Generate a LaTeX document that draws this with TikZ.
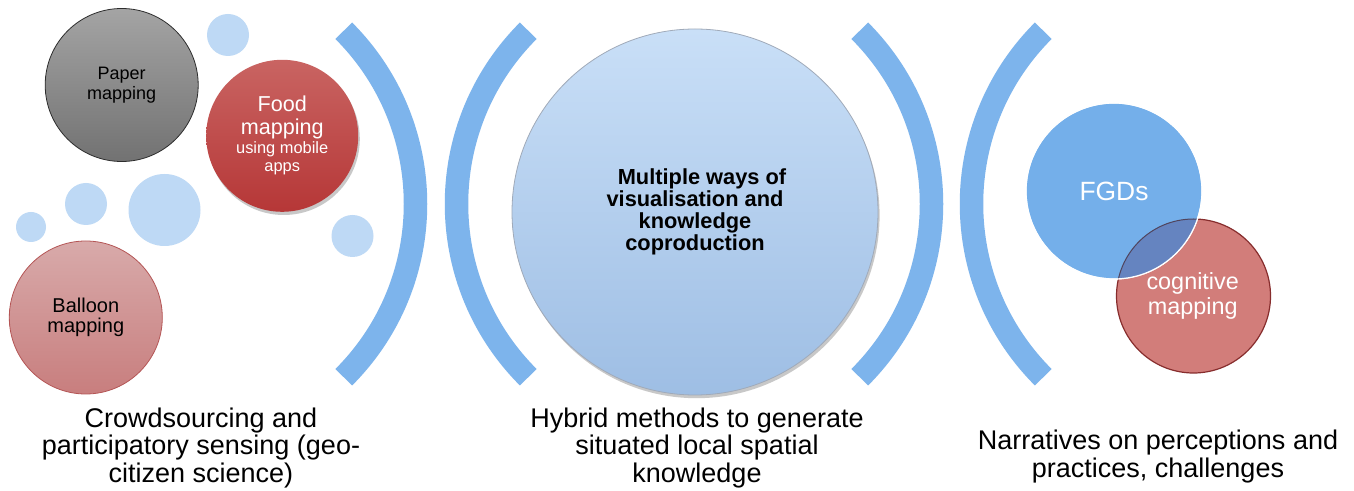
\documentclass[tikz,border=0pt]{standalone}
\usepackage{fontspec}
\setmainfont{Liberation Sans}
\usetikzlibrary{shadows}

\definecolor{bracketblue}{RGB}{125,180,236}
\definecolor{dotblue}{RGB}{190,217,245}
\definecolor{papertop}{RGB}{164,164,164}
\definecolor{paperbot}{RGB}{114,114,114}
\definecolor{paperedge}{RGB}{45,45,45}
\definecolor{foodtop}{RGB}{201,100,98}
\definecolor{foodbot}{RGB}{182,55,55}
\definecolor{balloontop}{RGB}{216,170,170}
\definecolor{balloonbot}{RGB}{200,126,126}
\definecolor{balloonedge}{RGB}{180,85,85}
\definecolor{midtop}{RGB}{201,223,247}
\definecolor{midbot}{RGB}{158,190,228}
\definecolor{midedge}{RGB}{160,170,185}
\definecolor{fgdblue}{RGB}{116,175,234}
\definecolor{cogred}{RGB}{210,125,122}
\definecolor{cogedge}{RGB}{135,45,45}
\definecolor{overlap}{RGB}{101,132,192}

\begin{document}
\begin{tikzpicture}[
    x=0.5pt, y=-0.5pt,
    bubble/.style={circle, inner sep=0pt, align=center},
    dot/.style={circle, fill=dotblue, inner sep=0pt},
    bracket/.style={draw=bracketblue, line width=11.75pt},
    caption/.style={align=center, inner sep=0pt, font=\fontsize{13.5}{13.75}\selectfont},
    softshadow/.style={drop shadow={shadow xshift=0.8pt, shadow yshift=-1.6pt, opacity=0.3, fill=black!70}}
]
    % page
    \fill[white] (0,0) rectangle (1354,491);
    \useasboundingbox (0,0) rectangle (1354,491);

    % small bubbles
    \node[dot, minimum size=21pt] (d1) at (228,35) {};
    \node[dot, minimum size=21pt] (d2) at (86,204) {};
    \node[dot, minimum size=15pt] (d3) at (31,227) {};
    \node[dot, minimum size=36pt] (d4) at (164.5,210) {};
    \node[dot, minimum size=21pt] (d5) at (352.5,236) {};

    % crowdsourcing bubbles
    \node[bubble, minimum size=76.5pt, draw=paperedge, top color=papertop, bottom color=paperbot,
          font=\fontsize{9}{10}\selectfont] (paper) at (121.7,85) {Paper\\mapping};
    \node[bubble, minimum size=76pt, top color=foodtop, bottom color=foodbot, softshadow,
          text=white, font=\fontsize{10.8}{11.5}\selectfont] (food) at (282.2,135.8)
          {Food\\mapping\\[-2pt]\fontsize{8.2}{9}\selectfont using mobile\\[-2.5pt]\fontsize{8.2}{9}\selectfont apps};
    \node[bubble, minimum size=76.5pt, draw=balloonedge, top color=balloontop, bottom color=balloonbot,
          font=\fontsize{10}{10}\selectfont] (balloon) at (85.8,317.5) {Balloon\\mapping};

    % brackets
    \coordinate (b1) at (170.5,204);
    \coordinate (b2) at (701.5,204);
    \coordinate (b3) at (686.5,204);
    \coordinate (b4) at (1216.5,204);
    \draw[bracket] (b1) ++(-45:245) arc[start angle=-45, end angle=45, radius=245];
    \draw[bracket] (b2) ++(135:245) arc[start angle=135, end angle=225, radius=245];
    \draw[bracket] (b3) ++(-45:245) arc[start angle=-45, end angle=45, radius=245];
    \draw[bracket] (b4) ++(135:245) arc[start angle=135, end angle=225, radius=245];

    % hybrid methods
    \node[bubble, minimum size=183pt, draw=midedge, line width=0.4pt, top color=midtop, bottom color=midbot,
          softshadow, font=\bfseries\fontsize{10.9}{11}\selectfont] (hybrid) at (695,212)
          {\hspace*{7pt}Multiple ways of\\visualisation and\\knowledge\\coproduction};

    % narratives
    \node[bubble, minimum size=77pt, fill=cogred, draw=cogedge, line width=0.6pt] (cog) at (1193.5,296) {};
    \node[bubble, minimum size=88pt, fill=fgdblue, draw=white, line width=0.6pt] (fgd) at (1114,191) {};
    \begin{scope}
        \clip (fgd.center) circle[radius=88];
        \fill[overlap] (cog.center) circle[radius=77];
        \draw[cogedge!40!overlap!70!black, line width=0.5pt] (cog.center) circle[radius=77];
    \end{scope}
    \draw[white, line width=0.6pt] (fgd.center) circle[radius=88];
    \node[text=white, font=\fontsize{13.2}{14}\selectfont] (fgdtext) at (fgd.center) {FGDs};
    \node[text=white, align=center, font=\fontsize{11.7}{12.5}\selectfont] (cogtext) at (1192.7,296) {cognitive\\mapping};

    % captions
    \node[caption] (crowd) at (201,447.6) {Crowdsourcing and\\participatory sensing (geo-\\citizen science)};
    \node[caption] (hybridtext) at (697,447.6) {Hybrid methods to generate\\situated local spatial\\knowledge};
    \node[caption] (narr) at (1158,456.6) {Narratives on perceptions and\\practices, challenges};
\end{tikzpicture}
\end{document}
